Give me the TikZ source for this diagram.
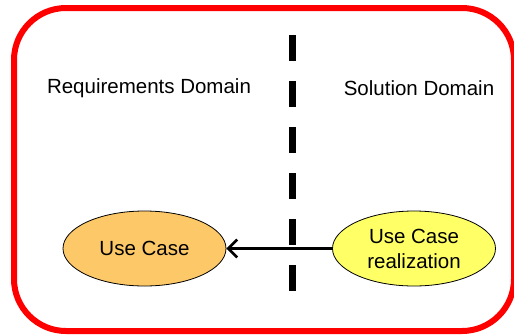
\documentclass[tikz,border=0pt]{standalone}
\usepackage{fontspec}
\setmainfont{Liberation Sans}
\usetikzlibrary{shapes.geometric,arrows.meta}
\definecolor{frame}{RGB}{255,0,0}
\definecolor{ucorange}{RGB}{253,201,104}
\definecolor{ucyellow}{RGB}{255,255,102}
\tikzset{
  uc/.style={ellipse, draw=black, line width=0.8pt, minimum width=163pt, minimum height=75pt, inner sep=0pt, align=center, font=\fontsize{20.5}{25}\selectfont},
  lbl/.style={font=\fontsize{20.5}{24}\selectfont, inner sep=0pt},
  divider/.style={line width=7pt, dash pattern=on 26pt off 20pt},
}
\begin{document}
\begin{tikzpicture}[x=1pt,y=-1pt]
\useasboundingbox (0,0) rectangle (514,335);
\draw[frame, line width=6pt, rounded corners=52pt] (14,8) rectangle (514,331);
\coordinate (dtop) at (292,35);
\coordinate (dbot) at (292,292);
\draw[divider] (dtop) -- (dbot);
\node[lbl] (req) at (149,88) {Requirements Domain};
\node[lbl] (sol) at (419,88) {Solution Domain};
\node[uc, fill=ucorange] (uc) at (144.5,248.5) {Use Case};
\node[uc, fill=ucyellow] (ucr) at (414,248.5) {Use Case\\realization};
\draw[line width=2.6pt, -{Straight Barb[length=9pt,width=18pt,line width=2.6pt]}] (ucr) -- (uc);
\end{tikzpicture}
\end{document}
